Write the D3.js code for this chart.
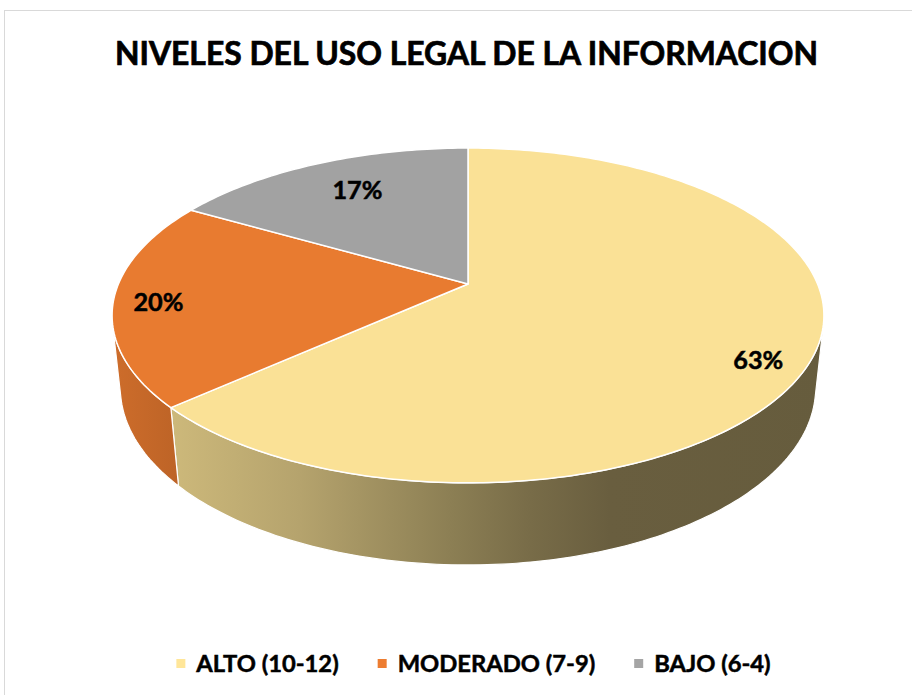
<!DOCTYPE html>
<html>
<head>
<meta charset="utf-8">
<script src="https://cdn.jsdelivr.net/npm/d3@7"></script>
<style>
  html, body { margin: 0; padding: 0; background: #fff; }
  svg { display: block; }
  text { font-family: Lato, "Open Sans", sans-serif; font-weight: bold; fill: #000; stroke: #000; stroke-width: 0.5px; }
</style>
</head>
<body>
<div id="chart"></div>
<script>
// data (30 respondents -> 63% / 20% / 17%)
const categories = ["ALTO (10-12)", "MODERADO (7-9)", "BAJO (6-4)"];
const counts = [19, 6, 5];
const colors = ["#FFE699", "#ED7D31", "#A5A5A5"];
const title = "NIVELES DEL USO LEGAL DE LA INFORMACION";

(function () {
    const W = 912, H = 695;
    const svg = d3.select("#chart").append("svg").attr("width", W).attr("height", H);
    const defs = svg.append("defs");

    // chart area border (runs off the page on right/bottom)
    svg.append("rect")
        .attr("x", 4.5).attr("y", 10.5)
        .attr("width", W + 20).attr("height", H + 20)
        .attr("fill", "#fff").attr("stroke", "#D9D9D9");

    // --- 3D perspective setup (disk radius 1) ---
    const cx = 468, cy = 284;
    const K = 1650, D = 4.72, tilt = Math.asin(0.462), depth = 0.236;
    const s = Math.sin(tilt), c = Math.cos(tilt);
    function proj(t, r, w) {
        const u = r * Math.sin(t), v = -r * Math.cos(t);
        const yc = v * s - w * c;
        const zc = D - v * c - w * s;
        return [cx + K * u / zc, cy + K * yc / zc];
    }
    // outer wall faces the viewer where -cos t > 1/(D c)
    const vis = Math.acos(-1 / (D * c));
    const visLo = vis, visHi = 2 * Math.PI - vis;

    const total = d3.sum(counts);
    const pct = d3.format(".0%");
    const pie = d3.pie().sort(null).value(d => d.value);
    const arcs = pie(categories.map((k, i) => ({ key: k, value: counts[i], color: colors[i] })));

    const line = d3.line();
    const rimPts = (t0, t1, w) => {
        const n = Math.max(2, Math.ceil((t1 - t0) / (Math.PI / 180)));
        return d3.range(n + 1).map(i => proj(t0 + (t1 - t0) * i / n, 1, w));
    };

    // side shading: brightness by screen x
    const shadeStops = [[110, 0.87], [175, 0.80], [300, 0.71], [450, 0.55], [530, 0.47], [610, 0.41], [824, 0.40]];
    const shade = (col, f) => { const q = d3.rgb(col); return d3.rgb(q.r * f, q.g * f, q.b * f).formatHex(); };
    arcs.forEach((a, i) => {
        const g = defs.append("linearGradient")
            .attr("id", "side-" + i)
            .attr("gradientUnits", "userSpaceOnUse")
            .attr("x1", 110).attr("x2", 824).attr("y1", 0).attr("y2", 0);
        shadeStops.forEach(([x, f]) => {
            g.append("stop").attr("offset", ((x - 110) / (824 - 110) * 100) + "%")
                .attr("stop-color", shade(a.data.color, f));
        });
    });

    const pieG = svg.append("g");

    // outer walls (front-facing part only)
    arcs.forEach((a, i) => {
        const t0 = Math.max(a.startAngle, visLo), t1 = Math.min(a.endAngle, visHi);
        if (t1 <= t0) return;
        const pts = rimPts(t0, t1, 0).concat(rimPts(t0, t1, -depth).reverse());
        pieG.append("path")
            .attr("d", line(pts) + "Z")
            .attr("fill", `url(#side-${i})`)
            .attr("stroke", "#fff").attr("stroke-width", 1.2)
            .attr("stroke-linejoin", "round");
    });

    // top faces
    arcs.forEach(a => {
        const pts = [proj(0, 0, 0)].concat(rimPts(a.startAngle, a.endAngle, 0));
        pieG.append("path")
            .attr("d", line(pts) + "Z")
            .attr("fill", shade(a.data.color, 0.98))
            .attr("stroke", "#fff").attr("stroke-width", 1.5)
            .attr("stroke-linejoin", "round");
    });

    // title, used to size the horizontal squeeze of every text
    const titleT = svg.append("text")
        .attr("x", 466.5).attr("y", 65)
        .attr("text-anchor", "middle")
        .style("font-size", "31.5px")
        .style("stroke-width", "0.7px")
        .text(title);
    const natural = titleT.node().getComputedTextLength();
    const squeeze = 703 / natural;
    titleT.attr("textLength", 703).attr("lengthAdjust", "spacingAndGlyphs");
    const fit = sel => {
        const w = sel.node().getComputedTextLength();
        sel.attr("textLength", w * squeeze).attr("lengthAdjust", "spacingAndGlyphs");
        return w * squeeze;
    };

    // data labels
    const labelR = 0.85;
    const labelNudge = [[0, 15], [-9, 2], [20, 9]];
    arcs.forEach((a, i) => {
        const [x, y] = proj((a.startAngle + a.endAngle) / 2, labelR, 0);
        const t = pieG.append("text")
            .attr("x", x + labelNudge[i][0]).attr("y", y + labelNudge[i][1])
            .attr("text-anchor", "middle")
            .attr("dominant-baseline", "central")
            .style("font-size", "25px")
            .text(pct(a.value / total));
        fit(t);
    });

    // legend
    const sq = 9, gapTxt = 11, gapItem = 39;
    const leg = svg.append("g");
    const items = arcs.map(a => {
        const g = leg.append("g");
        g.append("rect").attr("width", sq).attr("height", sq).attr("y", 659)
            .attr("fill", a.data.color);
        const t = g.append("text").attr("y", 672).style("font-size", "23.5px").text(a.data.key);
        const w = fit(t);
        return { g, t, w };
    });
    const legW = d3.sum(items, d => sq + gapTxt + d.w) + gapItem * (items.length - 1);
    let x0 = 473.5 - legW / 2;
    items.forEach(d => {
        d.g.select("rect").attr("x", x0);
        d.t.attr("x", x0 + sq + gapTxt);
        x0 += sq + gapTxt + d.w + gapItem;
    });
})();
</script>
</body>
</html>
